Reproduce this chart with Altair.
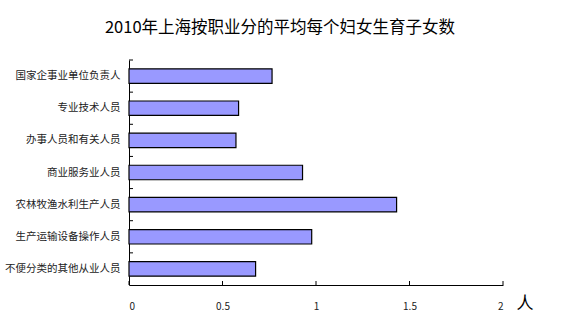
import altair as alt
import pandas as pd

categories = ["国家企事业单位负责人", "专业技术人员", "办事人员和有关人员", "商业服务业人员",
              "农林牧渔水利生产人员", "生产运输设备操作人员", "不便分类的其他从业人员"]
values = [0.765, 0.586, 0.572, 0.928, 1.431, 0.977, 0.677]
x_ticks = [0, 0.5, 1, 1.5, 2]
title_text = "2010年上海按职业分的平均每个妇女生育子女数"
unit_text = "人"

df = pd.DataFrame({"cat": categories, "val": values})
tick_df = pd.DataFrame({"t": x_ticks})
FONT = "Noto Sans CJK SC"
W, H = 374, 225
P_IN, P_OUT = 0.55, 0.275
STEP = H / len(categories)

xscale = alt.Scale(domain=[0, 2], nice=False, zero=True)
yscale = alt.Scale(domain=categories, paddingInner=P_IN, paddingOuter=P_OUT)

bars = alt.Chart(df).mark_bar(color="#9999FF", stroke="black", strokeWidth=1.2).encode(
    x=alt.X("val:Q", scale=xscale,
            axis=alt.Axis(values=x_ticks, format="~g", title=None, grid=False, ticks=False,
                          domain=True, domainColor="black", labelPadding=16,
                          labelFont=FONT, labelFontSize=10, labelColor="#222222")),
    y=alt.Y("cat:N", scale=yscale, sort=categories,
            axis=alt.Axis(title=None, ticks=False, domain=True, domainColor="black",
                          labelPadding=9, labelFont=FONT, labelFontSize=10.5,
                          labelColor="#222222", grid=False))
)

# inward ticks on the x axis
xticks = alt.Chart(tick_df).mark_rule(color="black").encode(
    x=alt.X("t:Q", scale=xscale), y=alt.value(H), y2=alt.value(H - 4)
)

# inward ticks on the y axis at band boundaries
yticks = alt.Chart(df).mark_rule(color="black", yOffset=-P_OUT * STEP).encode(
    y=alt.Y("cat:N", scale=yscale, sort=categories, bandPosition=0),
    x=alt.value(0), x2=alt.value(4)
)

unit = alt.Chart(pd.DataFrame({"t": [unit_text]})).mark_text(
    font=FONT, fontSize=17, color="black", align="center", baseline="middle"
).encode(text="t:N", x=alt.value(W + 22), y=alt.value(H + 19))

chart = alt.layer(bars, xticks, yticks, unit).properties(
    width=W, height=H,
    title=alt.TitleParams(title_text, font=FONT, fontSize=16.5, fontWeight="normal",
                          color="black", anchor="middle", offset=23, dx=-36),
    autosize=alt.AutoSizeParams(type="none"),
    padding={"left": 129, "top": 60, "right": 68, "bottom": 36}
).configure_view(stroke=None)

chart.save("out.html", embed_options={"renderer": "svg", "actions": False})
